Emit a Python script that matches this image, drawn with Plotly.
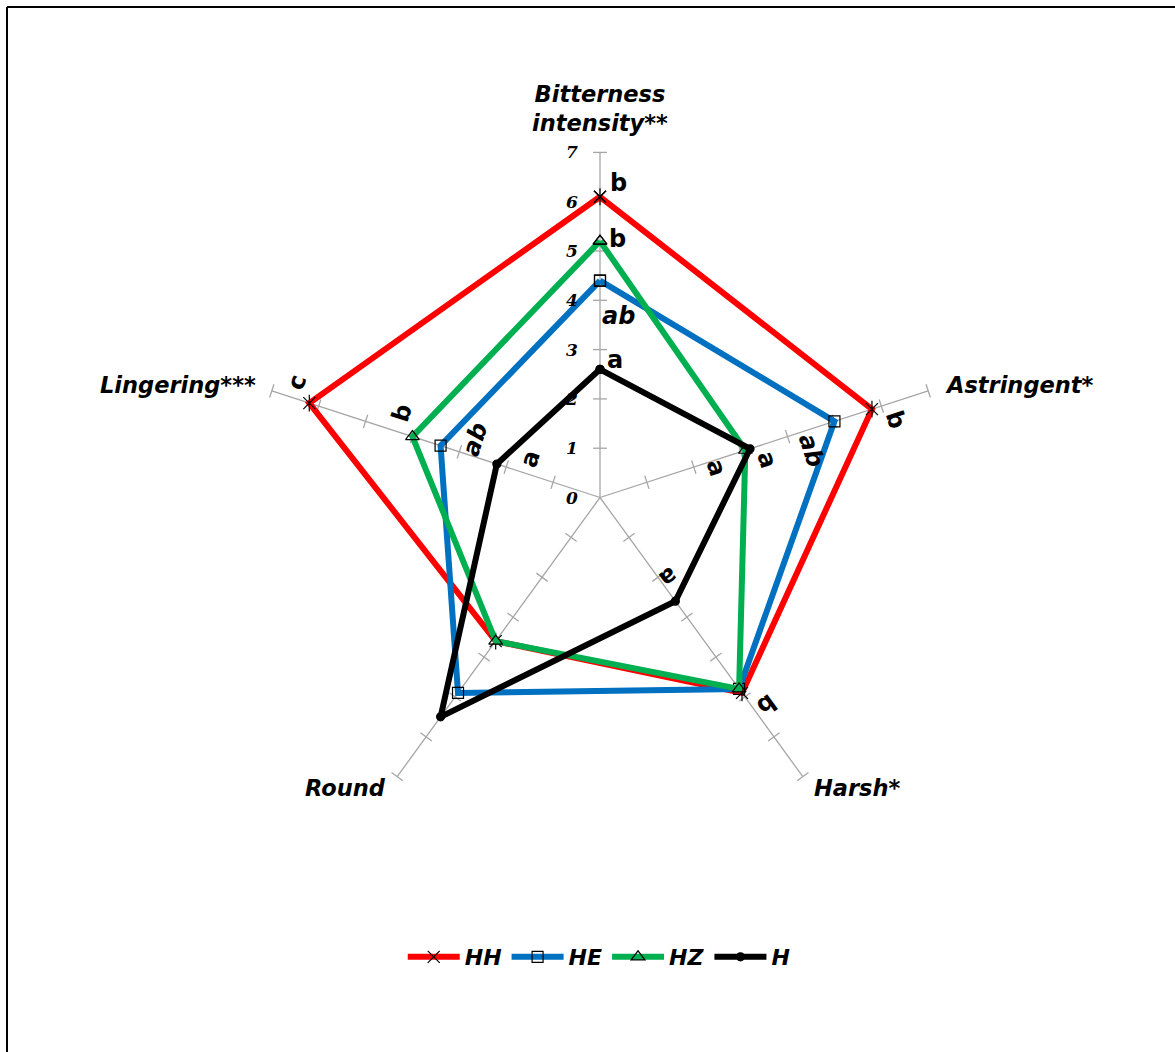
import numpy as np
import plotly.graph_objects as go

# ---- data -------------------------------------------------------------
attributes = ["Bitterness<br>intensity**", "Astringent*", "Harsh*", "Round", "Lingering***"]
series_names = ["HH", "HE", "HZ", "H"]

hh_values = [6.1, 5.8, 4.9, 3.6, 6.2]
he_values = [4.4, 5.0, 4.8, 4.9, 3.4]
hz_values = [5.2, 3.1, 4.8, 3.6, 4.0]
h_values = [2.6, 3.2, 2.6, 5.5, 2.2]

# significance letters (blank = not shown)
hh_letters = ["b", "b", "b", "", "c"]
he_letters = ["ab", "ab", "", "", "ab"]
hz_letters = ["b", "a", "", "", "b"]
h_letters = ["a", "a", "a", "", "a"]

scale_ticks = [0, 1, 2, 3, 4, 5, 6, 7]

# ---- geometry -----------------------------------------------------------
W, H = 1175, 1052
PX = 49.3                 # pixels per scale unit
CX, CY = 600.0, 497.5     # pixel position of the chart centre
RMAX = 7

n = len(attributes)
theta = np.deg2rad(90 - 72 * np.arange(n))
ux, uy = np.cos(theta), np.sin(theta)          # along each spoke
rx, ry = np.sin(theta), -np.cos(theta)         # "right" of rotated text
text_rot = [((a + 180) % 360) - 180 for a in [90 - np.rad2deg(t) for t in theta]]

def to_xy(vals):
    v = np.asarray(vals + vals[:1], dtype=float)
    xs = v * np.append(ux, ux[0])
    ys = v * np.append(uy, uy[0])
    return xs, ys

fig = go.Figure()

# spokes
sx, sy = [], []
for i in range(n):
    sx += [0, RMAX * ux[i], None]
    sy += [0, RMAX * uy[i], None]
fig.add_trace(go.Scatter(x=sx, y=sy, mode="lines",
                         line=dict(color="#A6A6A6", width=1.3),
                         hoverinfo="skip", showlegend=False))

# cross tick marks on every spoke
half = 7.0 / PX
tx, ty = [], []
for i in range(n):
    for k in scale_ticks[1:]:
        px_, py_ = k * ux[i], k * uy[i]
        tx += [px_ - half * rx[i], px_ + half * rx[i], None]
        ty += [py_ - half * ry[i], py_ + half * ry[i], None]
fig.add_trace(go.Scatter(x=tx, y=ty, mode="lines",
                         line=dict(color="#A6A6A6", width=1.3),
                         hoverinfo="skip", showlegend=False))

styles = {
    "HH": dict(color="#FF0000", symbol="x-thin-open", size=12),
    "HE": dict(color="#0070C0", symbol="square-open", size=11),
    "HZ": dict(color="#00B050", symbol="triangle-up-open", size=12),
    "H": dict(color="#000000", symbol="circle", size=8),
}
all_values = [hh_values, he_values, hz_values, h_values]
all_letters = [hh_letters, he_letters, hz_letters, h_letters]

for name, vals in zip(series_names, all_values):
    st = styles[name]
    xs, ys = to_xy(vals)
    fig.add_trace(go.Scatter(
        x=xs, y=ys, mode="lines+markers", name=name,
        line=dict(color=st["color"], width=6),
        marker=dict(symbol=st["symbol"], size=st["size"], color="#000000",
                    line=dict(color="#000000", width=1.2)),
        hoverinfo="skip"))
    if name == "HH":
        # vertical stroke completing the six-armed star marker
        fig.add_trace(go.Scatter(
            x=xs[:-1], y=ys[:-1], mode="markers", showlegend=False,
            marker=dict(symbol="line-ns-open", size=12, color="#000000",
                        line=dict(color="#000000", width=1.2)),
            hoverinfo="skip"))

# placement of the significance letters: (along spoke, across) in pixels
letter_offsets = {
    ("HH", 0): (14, 18), ("HH", 1): (19, 17), ("HH", 2): (24, -13), ("HH", 4): (18, 16),
    ("HE", 0): (-35, 18), ("HE", 1): (-31, 20), ("HE", 4): (-31, 16),
    ("HZ", 0): (2, 17), ("HZ", 1): (-33, 8), ("HZ", 4): (17, 19),
    ("H", 0): (9, 15), ("H", 1): (13, 16), ("H", 2): (-24, -9), ("H", 4): (-30, 15),
}

annotations = []
for name, vals, letters in zip(series_names, all_values, all_letters):
    for i, (v, lt) in enumerate(zip(vals, letters)):
        if not lt:
            continue
        a, c = letter_offsets[(name, i)]
        x = v * ux[i] + (a * ux[i] + c * rx[i]) / PX
        y = v * uy[i] + (a * uy[i] + c * ry[i]) / PX
        annotations.append(dict(
            x=x, y=y, xref="x", yref="y", text=lt, showarrow=False,
            textangle=text_rot[i], xanchor="center", yanchor="middle",
            font=dict(family="DejaVu Sans", size=24, color="#000000",
                      weight="bold", style="italic" if len(lt) > 1 else "normal")))

# scale numbers along the top spoke
for k in scale_ticks:
    annotations.append(dict(
        x=-20 / PX, y=k, xref="x", yref="y", text=str(k), showarrow=False,
        xanchor="right", yanchor="middle",
        font=dict(family="DejaVu Serif", size=17, color="#000000",
                  weight="bold", style="italic")))

# attribute names
title_font = dict(family="DejaVu Sans", size=22.5, color="#000000",
                  weight="bold", style="italic")
title_pos = [
    (0, (CY - 108) / PX, "center"),
    (343 / PX, (CY - 385) / PX, "left"),
    (212 / PX, (CY - 788) / PX, "left"),
    (-212 / PX, (CY - 788) / PX, "right"),
    (-342 / PX, (CY - 385) / PX, "right"),
]
for txt, (x, y, xa) in zip(attributes, title_pos):
    annotations.append(dict(x=x, y=y, xref="x", yref="y", text=txt,
                            showarrow=False, xanchor=xa, yanchor="middle",
                            font=title_font))

fig.update_layout(
    width=W, height=H, autosize=False,
    margin=dict(l=0, r=0, t=0, b=0),
    paper_bgcolor="white", plot_bgcolor="white",
    xaxis=dict(range=[-CX / PX, (W - CX) / PX], visible=False, fixedrange=True),
    yaxis=dict(range=[-(H - CY) / PX, CY / PX], visible=False, fixedrange=True),
    annotations=annotations,
    showlegend=True,
    legend=dict(orientation="h", x=0.51, xanchor="center",
                y=1 - 957 / H, yanchor="middle", itemwidth=52,
                font=dict(family="DejaVu Sans", size=22, color="#000000",
                          weight="bold", style="italic"),
                bgcolor="rgba(0,0,0,0)"),
    shapes=[
        dict(type="line", xref="paper", yref="paper",
             x0=7 / W, x1=1.0, y0=1 - 7 / H, y1=1 - 7 / H,
             line=dict(color="#000000", width=2)),
        dict(type="line", xref="paper", yref="paper",
             x0=7 / W, x1=7 / W, y0=1 - 7 / H, y1=0,
             line=dict(color="#000000", width=2)),
    ],
)

fig.write_html("out.html")
